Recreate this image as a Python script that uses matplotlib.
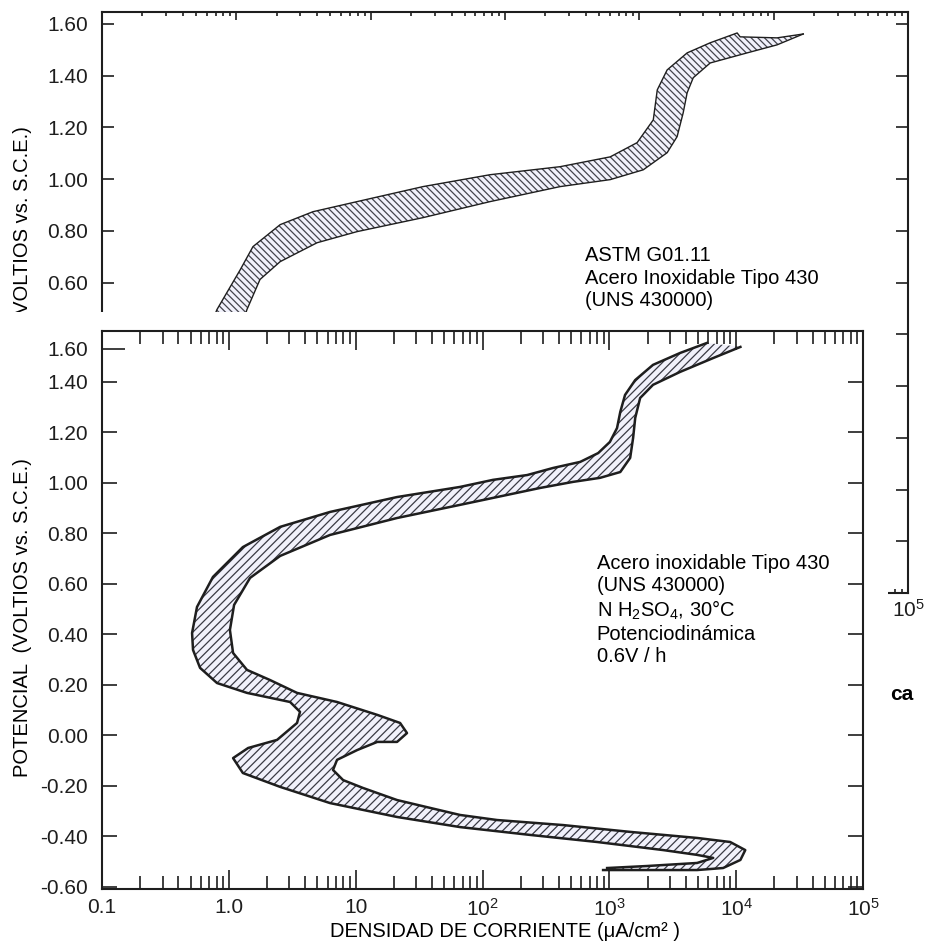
import numpy as np
import matplotlib.pyplot as plt
from matplotlib.patches import Polygon, Rectangle
from matplotlib.ticker import LogLocator, NullFormatter

# --- data (current density in uA/cm2, potential in V vs SCE) ---

# lower figure: Acero inoxidable Tipo 430, N H2SO4, 30 C
# edge A = outer/left edge of the band, edge B = inner/right edge
bot_i_a = [5900, 3610, 2210, 1600, 1330, 1220, 1150, 1010, 817, 589, 360, 225, 121, 66.5, 21.2,
           6.28, 2.54, 1.29, 0.750, 0.561, 0.513, 0.522, 0.593, 0.807, 1.39, 3.04, 3.64, 3.45, 2.40,
           1.42, 1.08, 1.29, 2.54, 6.28, 21.2, 66.5, 237, 801, 2660, 4920, 6590, 4920, 1990, 961]
bot_e_a = [1.553, 1.513, 1.466, 1.406, 1.347, 1.280, 1.216, 1.161, 1.117, 1.082, 1.058, 1.030, 1.011,
           0.983, 0.943, 0.884, 0.825, 0.745, 0.627, 0.508, 0.405, 0.338, 0.267, 0.207, 0.168, 0.132,
           0.093, 0.049, -0.018, -0.050, -0.090, -0.149, -0.204, -0.268, -0.323, -0.363, -0.394,
           -0.422, -0.454, -0.473, -0.485, -0.505, -0.517, -0.525]
bot_i_b = [10800, 6590, 3610, 2210, 1750, 1600, 1540, 1460, 1220, 846, 518, 285, 66.5, 21.2, 6.28,
           2.54, 1.47, 1.10, 1.02, 1.08, 1.39, 2.11, 3.45, 7.13, 14.8, 22.4, 25.4, 21.2, 14.8, 10.3,
           7.13, 6.63, 7.96, 11.4, 21.2, 38.6, 66.5, 130, 432, 1460, 4920, 8970, 11800, 10800, 7890,
           4920, 1990, 893]
bot_e_b = [1.537, 1.493, 1.438, 1.387, 1.335, 1.256, 1.177, 1.098, 1.042, 1.019, 1.003, 0.979, 0.912,
           0.860, 0.793, 0.710, 0.623, 0.516, 0.417, 0.326, 0.259, 0.219, 0.168, 0.132, 0.081, 0.049,
           0.009, -0.026, -0.026, -0.058, -0.097, -0.137, -0.177, -0.208, -0.256, -0.287, -0.315,
           -0.335, -0.355, -0.382, -0.406, -0.422, -0.454, -0.493, -0.525, -0.533, -0.533, -0.533]

# upper figure (ASTM G01.11), partly hidden behind the lower one
top_i_a = [0.659, 0.718, 1.07, 1.33, 2.12, 3.72, 7.92, 24.5, 77.4, 257, 607, 963, 1270, 1360, 1610,
           2270, 3370, 5350, 5630, 10600, 16600]
top_e_a = [0.449, 0.496, 0.650, 0.739, 0.824, 0.874, 0.913, 0.971, 1.017, 1.048, 1.086, 1.141, 1.229,
           1.345, 1.422, 1.488, 1.527, 1.565, 1.550, 1.546, 1.561]
top_i_b = [1.12, 1.20, 1.50, 2.12, 3.99, 7.92, 24.5, 77.4, 257, 607, 1070, 1610, 1910, 2120, 2270,
           2520, 3370, 6350, 10600, 16600]
top_e_b = [0.449, 0.496, 0.612, 0.681, 0.754, 0.797, 0.851, 0.913, 0.971, 0.998, 1.036, 1.102, 1.164,
           1.256, 1.334, 1.392, 1.449, 1.488, 1.519, 1.561]

x_ticks = [0.1, 1, 10, 100, 1000, 1e4, 1e5]
x_labels = ['0.1', '1.0', '10', '$10^2$', '$10^3$', '$10^4$', '$10^5$']
y_ticks = [-0.6, -0.4, -0.2, 0.0, 0.2, 0.4, 0.6, 0.8, 1.0, 1.2, 1.4, 1.6]

ylabel = 'POTENCIAL  (VOLTIOS vs. S.C.E.)'
top_note = 'ASTM G01.11\nAcero Inoxidable Tipo 430\n(UNS 430000)'
bot_note = ('Acero inoxidable Tipo 430\n(UNS 430000)\nN H$_2$SO$_4$, 30\u00b0C\n'
            'Potenciodin\u00e1mica\n0.6V / h')

plt.rcParams['font.family'] = ['Liberation Sans', 'DejaVu Sans']
plt.rcParams['mathtext.fontset'] = 'custom'
plt.rcParams['mathtext.rm'] = 'Liberation Sans'
plt.rcParams['mathtext.it'] = 'Liberation Sans:italic'
plt.rcParams['mathtext.bf'] = 'Liberation Sans:bold'
plt.rcParams['hatch.linewidth'] = 0.9

INK = '#1e1e1e'
W, H = 927, 941


def draw_band(ax, ia, ea, ib, eb, hatch, edge_lw, hatch_col):
    xs = np.concatenate([ia, ib[::-1]])
    ys = np.concatenate([ea, eb[::-1]])
    poly = Polygon(np.column_stack([xs, ys]), closed=True, facecolor='#f1f1fb',
                   edgecolor=hatch_col, lw=0, hatch=hatch)
    ax.add_patch(poly)
    ax.plot(ia, ea, color=INK, lw=edge_lw, solid_joinstyle='round')
    ax.plot(ib, eb, color=INK, lw=edge_lw, solid_joinstyle='round')


def style_axes(ax, xmaj, xmin, ylen, fs):
    ax.set_xscale('log')
    ax.set_xlim(0.1, 1e5)
    ax.set_xticks(x_ticks)
    ax.set_xticklabels(x_labels, fontsize=fs)
    ax.xaxis.set_minor_locator(LogLocator(base=10, subs=range(2, 10), numticks=20))
    ax.xaxis.set_minor_formatter(NullFormatter())
    ax.tick_params(which='both', direction='in', top=True, right=True, width=1.2, colors=INK)
    ax.tick_params(axis='x', which='major', length=xmaj)
    ax.tick_params(axis='x', which='minor', length=xmin)
    ax.tick_params(axis='y', which='major', length=ylen, pad=10)
    for s in ax.spines.values():
        s.set_linewidth(1.5)
        s.set_color(INK)


fig = plt.figure(figsize=(W / 100, H / 100), dpi=100)

# upper (background) chart
ax_top = fig.add_axes([102 / W, 1 - 593 / H, 806 / W, 581 / H], zorder=0)
style_axes(ax_top, 5.8, 2.9, 8.6, 15)
ax_top.set_ylim(-0.6, 1.646)
ax_top.set_yticks(y_ticks)
# only the labels that stay visible next to the pasted lower chart
ax_top.set_yticklabels(['%.2f' % v if v > 0.5 else '' for v in y_ticks], fontsize=15)
ax_top.set_xticklabels(['' for _ in x_labels[:-1]] + [x_labels[-1]], fontsize=15)
ax_top.tick_params(axis='x', pad=4)
draw_band(ax_top, np.array(top_i_a), np.array(top_e_a), np.array(top_i_b), np.array(top_e_b),
          '\\\\\\\\\\', 1.0, '#44444c')
ax_top.set_ylabel(ylabel, fontsize=14.5)
ax_top.yaxis.set_label_coords(-0.087, 0.53)
ax_top.text(0.599, 0.542, top_note, transform=ax_top.transAxes, fontsize=14.5,
            ha='left', va='center', linespacing=1.25)

# the lower chart is pasted on top of the upper one
fig.add_artist(Rectangle((0, 0), 888 / W, 1 - 312 / H, transform=fig.transFigure,
                         facecolor='white', edgecolor='none', zorder=1))

ax = fig.add_axes([102 / W, 1 - 889 / H, 761 / W, 558 / H], zorder=2)
style_axes(ax, 13.7, 9.4, 10.8, 15)
ax.set_ylim(-0.608, 1.60)
# in the scan the "1.60" label sits a little below the frame top, on a longer tick
y_pos = y_ticks[:-1] + [1.53]
ax.set_yticks(y_pos)
ax.set_yticklabels(['%.2f' % v for v in y_ticks], fontsize=15)
ax.yaxis.get_major_ticks()[-1].tick1line.set_markersize(16.5)
ax.yaxis.get_major_ticks()[-1].tick2line.set_visible(False)
ax.tick_params(axis='x', pad=6.5)
draw_band(ax, np.array(bot_i_a), np.array(bot_e_a), np.array(bot_i_b), np.array(bot_e_b),
          '////', 1.8, '#3a3a44')
ax.set_ylabel(ylabel, fontsize=14.5)
ax.yaxis.set_label_coords(-0.092, 0.487)
ax.set_xlabel('DENSIDAD DE CORRIENTE (\u03bcA/cm\u00b2 )', fontsize=14.5)
ax.xaxis.set_label_coords(0.53, -0.059)
ax.text(0.650, 0.50, bot_note, transform=ax.transAxes, fontsize=14.5,
        ha='left', va='center', linespacing=1.2)

# stray bold text of the underlying page
fig.text(890 / W, 1 - 695 / H, 'ca', fontsize=15, fontweight='bold', ha='left', va='center')

fig.savefig('out.png', dpi=100)
